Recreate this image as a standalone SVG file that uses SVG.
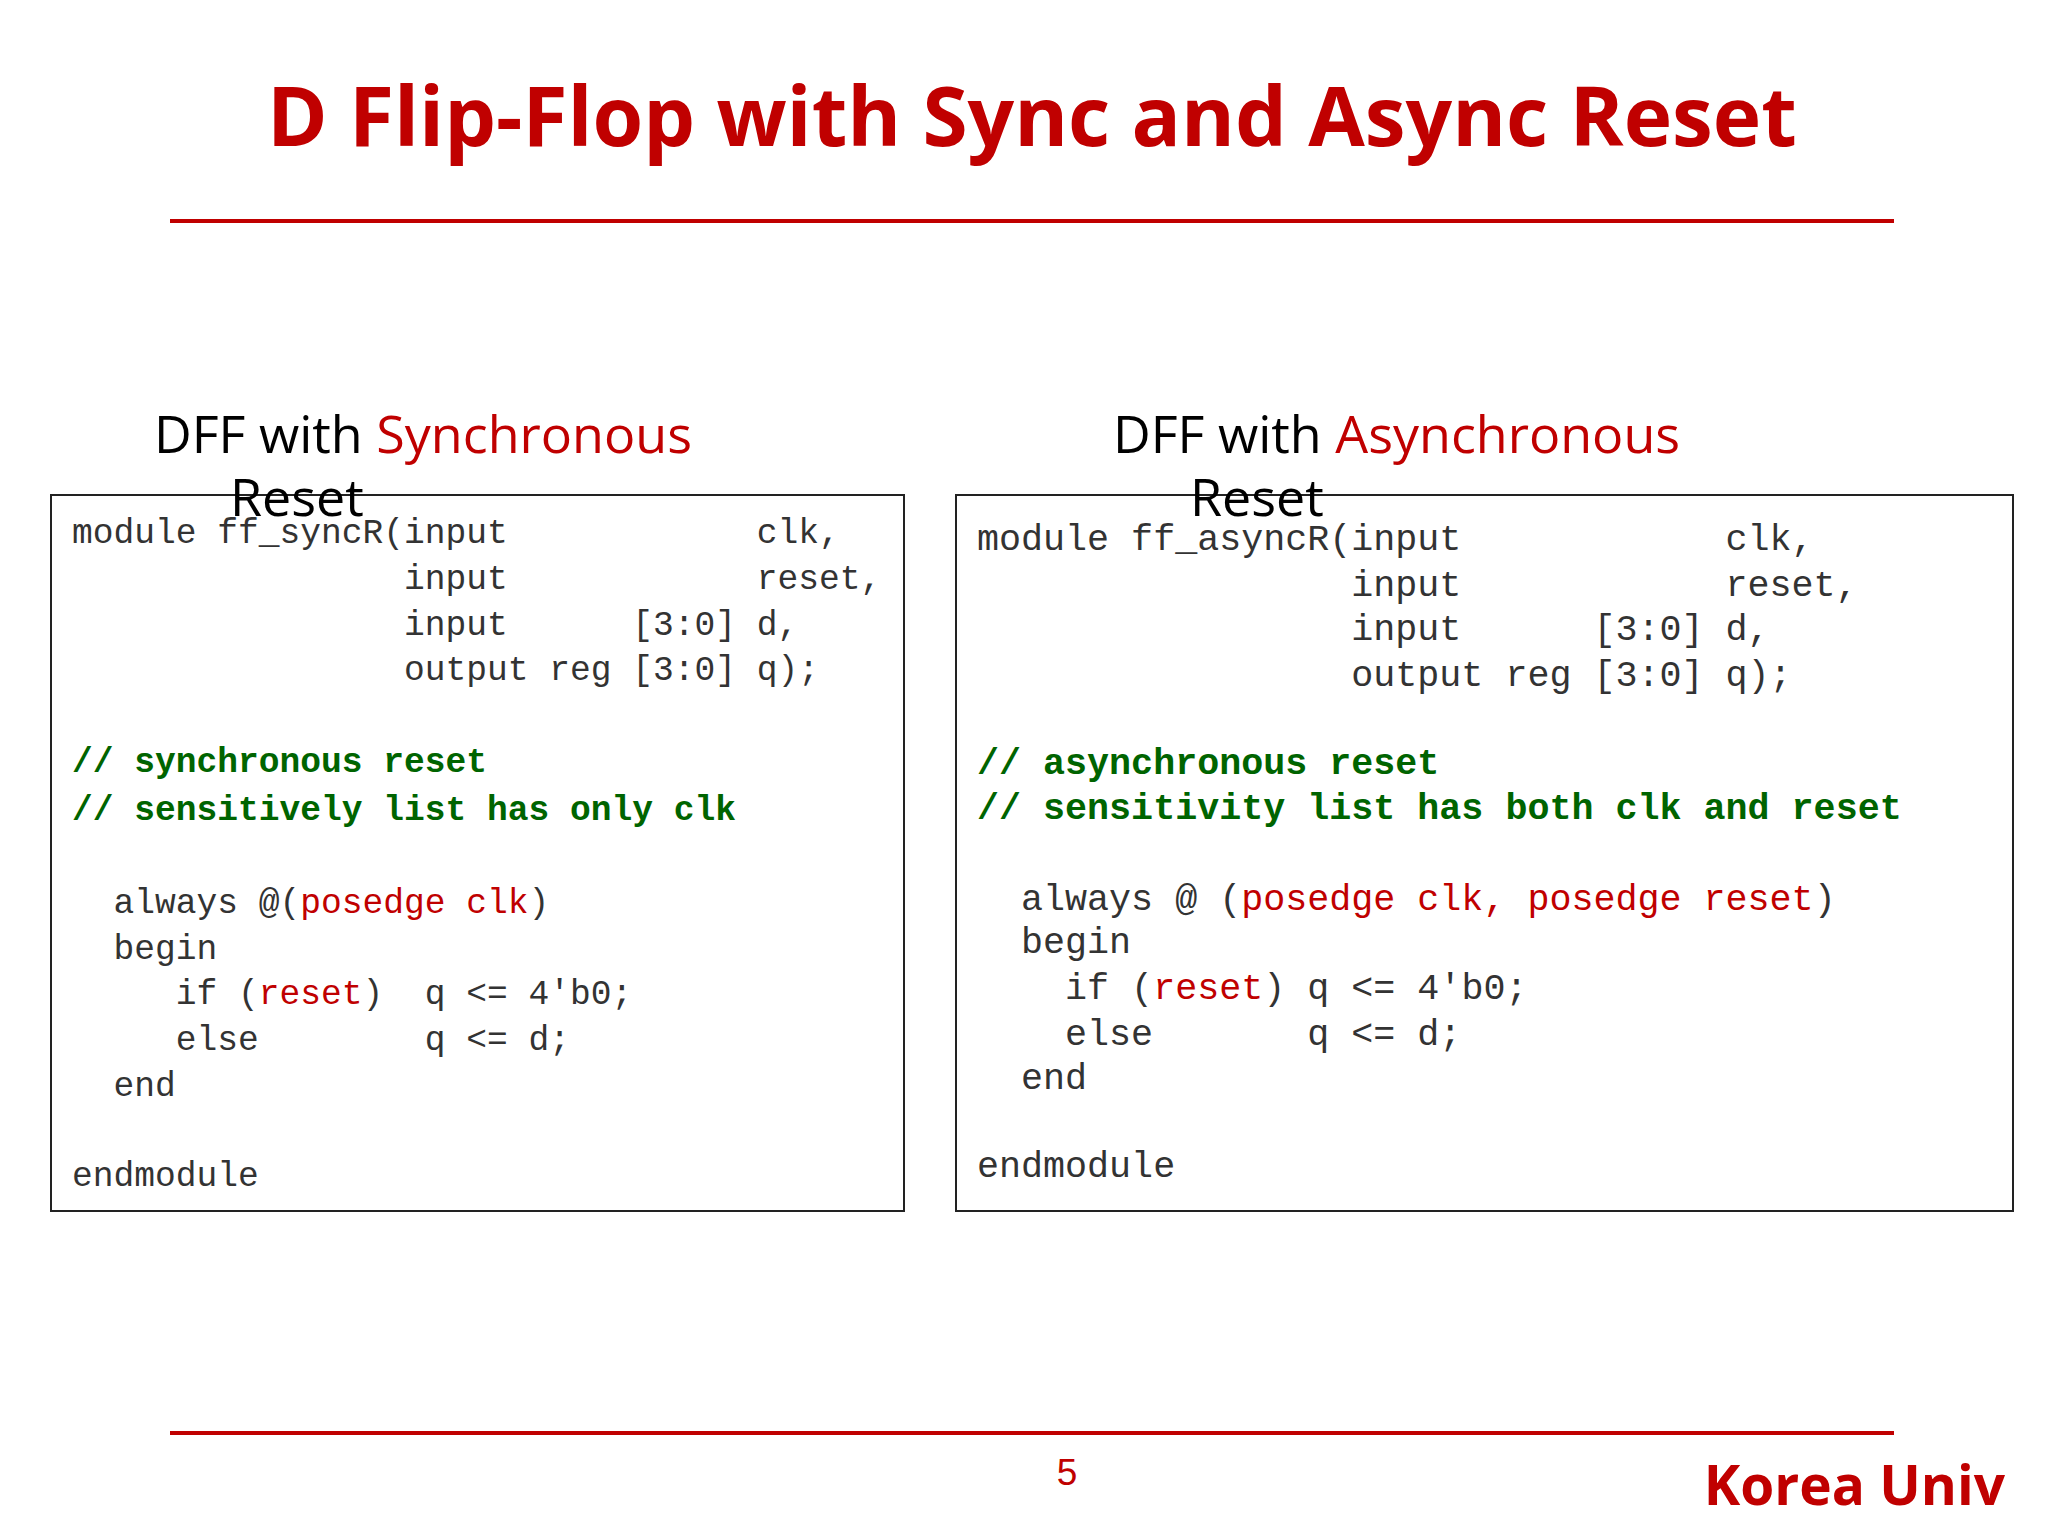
<svg xmlns="http://www.w3.org/2000/svg" width="2048" height="1536" viewBox="0 0 2048 1536" xml:space="preserve">
<style>
text{white-space:pre}
.code text{font-family:"Liberation Mono","Courier New",monospace;fill:#333;white-space:pre}
.l text{font-size:34.6px}.r text{font-size:36.7px}
.code text.cm{fill:#006400;font-weight:bold}
.red{fill:#C00000}
.code tspan.red{fill:#C00000}
.hd{font-family:"Open Sans","Noto Sans",sans-serif;font-size:52px;fill:#000}
.box{fill:#fff;stroke:#222;stroke-width:2}
</style>
<rect width="2048" height="1536" fill="#fff"/>
<g id="title"><text x="1032" y="146" text-anchor="middle" font-family="Open Sans,Noto Sans,sans-serif" font-weight="bold" font-size="82" fill="#C00000">D Flip-Flop with Sync and Async Reset</text></g>
<g id="rules"><line x1="170" y1="221" x2="1894" y2="221" stroke="#C00000" stroke-width="4"/><line x1="170" y1="1433" x2="1894" y2="1433" stroke="#C00000" stroke-width="4"/></g>
<g id="footer"><text x="1067" y="1485" text-anchor="middle" font-family="Liberation Sans,Arial,sans-serif" font-size="37" fill="#C00000">5</text>
<text x="2005" y="1505" text-anchor="end" font-family="Open Sans,Noto Sans,sans-serif" font-weight="bold" font-size="55" fill="#C00000">Korea Univ</text></g>
<g id="left">
<rect class="box" x="51" y="495" width="853" height="716"/>
<text class="hd" x="154" y="453">DFF with <tspan class="red">Synchronous</tspan></text>
<text class="hd" x="230" y="516">Reset</text>
<g class="code l">
<text x="72" y="543">module ff_syncR(input            clk,</text>
<text x="72" y="589">                input            reset,</text>
<text x="72" y="635">                input      [3:0] d,</text>
<text x="72" y="680">                output reg [3:0] q);</text>
<text x="72" y="772" class="cm">// synchronous reset</text>
<text x="72" y="820" class="cm">// sensitively list has only clk</text>
<text x="72" y="913">  always @(<tspan class="red">posedge clk</tspan>)</text>
<text x="72" y="959">  begin</text>
<text x="72" y="1004">     if (<tspan class="red">reset</tspan>)  q &lt;= 4'b0;</text>
<text x="72" y="1050">     else        q &lt;= d;</text>
<text x="72" y="1096">  end</text>
<text x="72" y="1186">endmodule</text>
</g></g>
<g id="right">
<rect class="box" x="956" y="495" width="1057" height="716"/>
<text class="hd" x="1113" y="453">DFF with <tspan class="red">Asynchronous</tspan></text>
<text class="hd" x="1190" y="516">Reset</text>
<g class="code r">
<text x="977" y="550">module ff_asyncR(input            clk,</text>
<text x="977" y="596">                 input            reset,</text>
<text x="977" y="640">                 input      [3:0] d,</text>
<text x="977" y="686">                 output reg [3:0] q);</text>
<text x="977" y="774" class="cm">// asynchronous reset</text>
<text x="977" y="819" class="cm">// sensitivity list has both clk and reset</text>
<text x="977" y="910">  always @ (<tspan class="red">posedge clk, posedge reset</tspan>)</text>
<text x="977" y="953">  begin</text>
<text x="977" y="999">    if (<tspan class="red">reset</tspan>) q &lt;= 4'b0;</text>
<text x="977" y="1045">    else       q &lt;= d;</text>
<text x="977" y="1089">  end</text>
<text x="977" y="1177">endmodule</text>
</g></g>
</svg>
